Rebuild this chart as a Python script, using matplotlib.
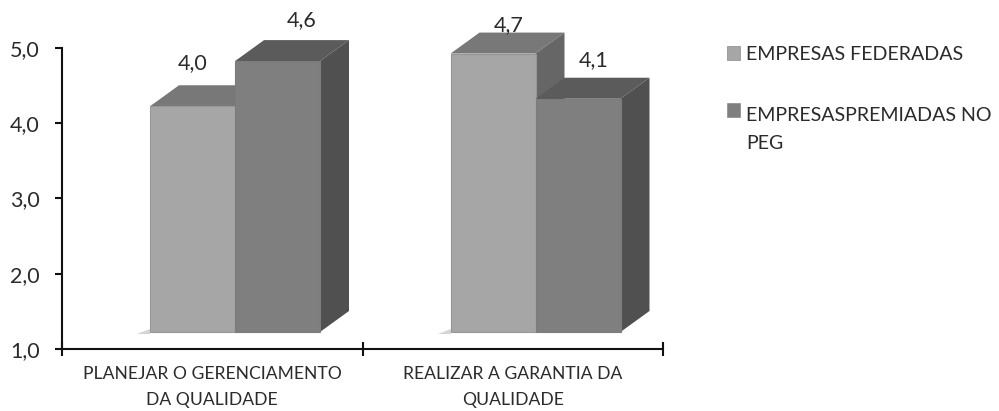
import matplotlib
matplotlib.use("Agg")
import matplotlib.pyplot as plt
from matplotlib.patches import Polygon, Rectangle
from matplotlib.ticker import FuncFormatter

categories = ["PLANEJAR O GERENCIAMENTO\nDA QUALIDADE", "REALIZAR A GARANTIA DA\nQUALIDADE"]
series_names = ["EMPRESAS FEDERADAS", "EMPRESASPREMIADAS NO\nPEG"]
federadas = [4.0, 4.7]
premiadas = [4.6, 4.1]
y_ticks = [1, 2, 3, 4, 5]

# front, top, side shades per series
shades = [("#a6a6a6", "#787878", "#666666"), ("#7f7f7f", "#5b5b5b", "#505050")]
edge = ["#979797", "#7c7c7c"]
label_offsets = [[(0, 43), (24, 41)], [(16, 28), (16, 39)]]

plt.rcParams["font.family"] = ["Lato", "DejaVu Sans"]
text_color = "#2b2b2b"

W, H = 999, 411
fig = plt.figure(figsize=(W / 100, H / 100), dpi=100)
ax = fig.add_axes([62 / W, (H - 349) / H, 601 / W, 301 / H])
ax.set_xlim(0, 2)
ax.set_ylim(1, 5)

# pixel-to-data factors for the oblique projection
px_x = 2 / 601
px_y = 4 / 301
bar_w = 85 * px_x
depth_x, depth_y = 29 * px_x, 21 * px_y
lift = 17 * px_y
group_shift = 173 * px_x


def draw_bar(x0, value, colors, edge_color, zorder):
    base = 1 + lift
    top = value + lift
    x1 = x0 + bar_w
    front, upper, side = colors
    ax.add_patch(Polygon([(x0, top), (x1, top), (x1 + depth_x, top + depth_y), (x0 + depth_x, top + depth_y)],
                         closed=True, fc=upper, ec="none", clip_on=False, zorder=zorder))
    ax.add_patch(Polygon([(x1, base), (x1 + depth_x, base + depth_y), (x1 + depth_x, top + depth_y), (x1, top)],
                         closed=True, fc=side, ec="none", clip_on=False, zorder=zorder))
    ax.add_patch(Rectangle((x0, base), bar_w, top - base, fc=front, ec=edge_color, lw=0.8,
                           clip_on=False, zorder=zorder + 0.1))


for i in range(len(categories)):
    centre = i + group_shift
    left = centre - bar_w
    # soft shadow at the foot of the first column
    ax.add_patch(Polygon([(left - 13 * px_x, 1 + lift - 2 * px_y), (left, 1 + lift - 2 * px_y), (left, 1 + lift + 3 * px_y)],
                         closed=True, fc="#d4d4d4", ec="none", clip_on=False, zorder=2))
    for s, values in enumerate((federadas, premiadas)):
        x0 = left + s * bar_w
        draw_bar(x0, values[i], shades[s], edge[s], 3 + s)
        ax.annotate(f"{values[i]:.1f}".replace(".", ","),
                    xy=(x0 + bar_w / 2, values[i] + lift), xytext=label_offsets[i][s],
                    textcoords=("offset pixels"), ha="center", va="center",
                    fontsize=15.5, color=text_color, annotation_clip=False, zorder=8)

for side in ("top", "right"):
    ax.spines[side].set_visible(False)
for side in ("left", "bottom"):
    ax.spines[side].set_linewidth(1.5)
    ax.spines[side].set_color("#111111")

ax.set_yticks(y_ticks)
ax.yaxis.set_major_formatter(FuncFormatter(lambda v, _: f"{v:.1f}".replace(".", ",")))
ax.tick_params(axis="y", direction="out", length=5, width=1.5, color="#111111",
               labelsize=15.5, labelcolor=text_color, pad=11)

ax.set_xticks([0, 1, 2])
ax.set_xticklabels([])
ax.tick_params(axis="x", direction="inout", length=10, width=1.5, color="#111111")
for i, name in enumerate(categories):
    ax.annotate(name, xy=(i + 0.5, 1), xytext=(0, -17), textcoords="offset pixels",
                ha="center", va="top", fontsize=12.6, color=text_color, linespacing=1.76,
                annotation_clip=False)

handles = [Rectangle((0, 0), 1, 1, fc=shades[s][0], ec="#8a8a8a", lw=0.5) for s in range(2)]
leg = fig.legend(handles, series_names, loc="upper left", bbox_to_anchor=(727 / W, 1 - 46 / H),
                 bbox_transform=fig.transFigure, frameon=False, fontsize=14.15,
                 handlelength=0.66, handleheight=0.66, handletextpad=0.3, labelspacing=2.22,
                 borderpad=0, borderaxespad=0, labelcolor=text_color)
for t in leg.get_texts():
    t.set_linespacing(1.8)
# keep the swatch beside the first line of the wrapped entry
swatch = leg.legend_handles[1]
swatch.set_y(swatch.get_y() + 14)

fig.savefig("out.png", dpi=100)
